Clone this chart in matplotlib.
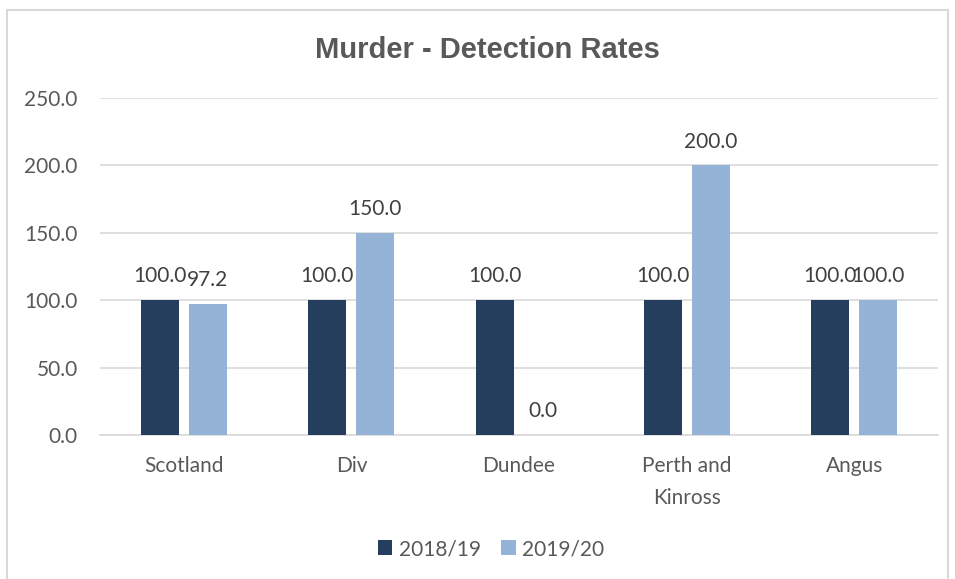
import matplotlib.pyplot as plt
import numpy as np
from matplotlib.patches import Rectangle

categories = ["Scotland", "Div", "Dundee", "Perth and\nKinross", "Angus"]
rate_1819 = [100.0, 100.0, 100.0, 100.0, 100.0]
rate_1920 = [97.2, 150.0, 0.0, 200.0, 100.0]
series_names = ["2018/19", "2019/20"]
yticks = [0, 50, 100, 150, 200, 250]

dark = "#253E5E"
light = "#95B3D7"
txt = "#595959"
grid = "#D9D9D9"
font = ["Lato", "DejaVu Sans"]

fig = plt.figure(figsize=(9.55, 5.79), dpi=100)
ax = fig.add_axes([100 / 955, 1 - 435 / 579, 838 / 955, 337 / 579])

x = np.arange(len(categories))
w = 0.227
off = 0.143
b1 = ax.bar(x - off, rate_1819, w, color=dark, label=series_names[0], zorder=3)
b2 = ax.bar(x + off, rate_1920, w, color=light, label=series_names[1], zorder=3)

for bars in (b1, b2):
    for r in bars:
        h = r.get_height()
        ax.annotate(f"{h:.1f}", (r.get_x() + r.get_width() / 2, h),
                    xytext=(0, 10), textcoords="offset points",
                    ha="center", va="bottom", fontsize=15, color="#404040",
                    family=font)

ax.set_xlim(-0.5, len(categories) - 0.5)
ax.set_ylim(0, 250)
ax.set_yticks(yticks)
ax.set_yticklabels([f"{v:.1f}" for v in yticks], family=font, fontsize=15, color=txt)
ax.set_xticks(x)
ax.set_xticklabels(categories, family=font, fontsize=15, color=txt, linespacing=1.75)
ax.tick_params(length=0, pad=15)
ax.tick_params(axis="y", pad=16)
ax.yaxis.grid(True, color=grid, linewidth=1.2, zorder=0)
for s in ax.spines.values():
    s.set_visible(False)
ax.spines["bottom"].set_visible(True)
ax.spines["bottom"].set_color(grid)
ax.spines["bottom"].set_linewidth(1.2)

fig.text(487 / 955, 1 - 50 / 579, "Murder - Detection Rates", ha="center", va="center",
         fontsize=21, fontweight="bold", color=txt, family="Liberation Sans")

fig.legend(handles=[b1, b2], loc="center", bbox_to_anchor=(491 / 955, 1 - 549 / 579),
           ncol=2, frameon=False, prop={"family": font, "size": 15},
           labelcolor=txt, handlelength=0.7, handleheight=0.7, handletextpad=0.3,
           columnspacing=1.0)

fig.patches.append(Rectangle((7 / 955, -0.05), 941 / 955, 1.05 - 10 / 579,
                             transform=fig.transFigure, fill=False,
                             edgecolor=grid, linewidth=1.5))

fig.savefig("out.png", dpi=100)
